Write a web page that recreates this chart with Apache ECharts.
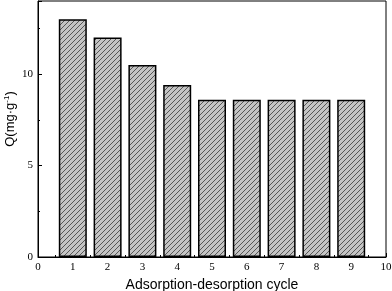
<!DOCTYPE html>
<html>
<head>
<meta charset="utf-8">
<script src="https://cdn.jsdelivr.net/npm/echarts@6/dist/echarts.min.js"></script>
<style>html,body{margin:0;padding:0;background:#fff}#c{width:392px;height:291px}</style>
</head>
<body>
<div id="c"></div>
<script>
var cycles = [1, 2, 3, 4, 5, 6, 7, 8, 9];
var capacity = [13.0, 12.0, 10.5, 9.4, 8.6, 8.6, 8.6, 8.6, 8.6];
var xTicks = [0, 1, 2, 3, 4, 5, 6, 7, 8, 9, 10];
var yTicks = [0, 5, 10];

function makeHatch() {
  var s = 5;
  var cv = document.createElement('canvas');
  cv.width = s; cv.height = s;
  var ctx = cv.getContext('2d');
  ctx.fillStyle = '#c4c4c4';
  ctx.fillRect(0, 0, s, s);
  ctx.strokeStyle = '#4a4a4a';
  ctx.lineWidth = 0.9;
  ctx.beginPath();
  ctx.moveTo(-1, s + 1); ctx.lineTo(s + 1, -1);
  ctx.moveTo(-1, 1); ctx.lineTo(1, -1);
  ctx.moveTo(s - 1, s + 1); ctx.lineTo(s + 1, s - 1);
  ctx.stroke();
  return cv;
}

var chart = echarts.init(document.getElementById('c'), null, {renderer: 'canvas'});
var serif = '"Liberation Serif", "DejaVu Serif", serif';
var sans = '"Liberation Sans", Arial, sans-serif';
chart.setOption({
  animation: false,
  grid: {left: 38, right: 6, top: 1, bottom: 34, show: true, borderColor: '#000', borderWidth: 1,
    containLabel: false, outerBoundsMode: 'none'},
  xAxis: {
    type: 'value', min: xTicks[0], max: xTicks[xTicks.length - 1], interval: 1,
    name: 'Adsorption-desorption cycle', nameLocation: 'middle', nameGap: 20,
    nameTextStyle: {fontFamily: sans, fontSize: 14, color: '#000'},
    axisLine: {show: true, lineStyle: {color: '#000', width: 1}},
    axisTick: {show: true, inside: true, length: 4, lineStyle: {color: '#000'}},
    minorTick: {show: true, splitNumber: 2, length: 2, lineStyle: {color: '#000'}},
    splitLine: {show: false},
    axisLabel: {fontFamily: serif, fontSize: 11, color: '#000', margin: 5,
      formatter: function (v) { return xTicks.indexOf(v) >= 0 ? String(v) : ''; }}
  },
  yAxis: {
    type: 'value', min: 0, max: 14, interval: 5,
    name: '{a|Q(mg·g}{s|-1}{a|)}', nameLocation: 'middle', nameGap: 21, nameMoveOverlap: false,
    nameTextStyle: {padding: [0, 0, 0, 20], rich: {
      a: {fontFamily: sans, fontSize: 13, color: '#000'},
      s: {fontFamily: sans, fontSize: 8, color: '#000', verticalAlign: 'top', padding: [0, 0, 6, 0]}
    }},
    axisLine: {show: true, lineStyle: {color: '#000', width: 1}},
    axisTick: {show: true, inside: true, length: 4, lineStyle: {color: '#000'}},
    minorTick: {show: true, splitNumber: 2, length: 2, lineStyle: {color: '#000'}},
    splitLine: {show: false},
    axisLabel: {fontFamily: serif, fontSize: 11, color: '#000', margin: 5, showMaxLabel: false,
      formatter: function (v) { return yTicks.indexOf(v) >= 0 ? String(v) : ''; }}
  },
  series: [{
    type: 'bar',
    data: cycles.map(function (c, i) { return [c, capacity[i]]; }),
    barWidth: 28,
    itemStyle: {
      color: {image: makeHatch(), repetition: 'repeat'},
      borderColor: '#000', borderWidth: 1.5
    }
  }]
});
</script>
</body>
</html>
